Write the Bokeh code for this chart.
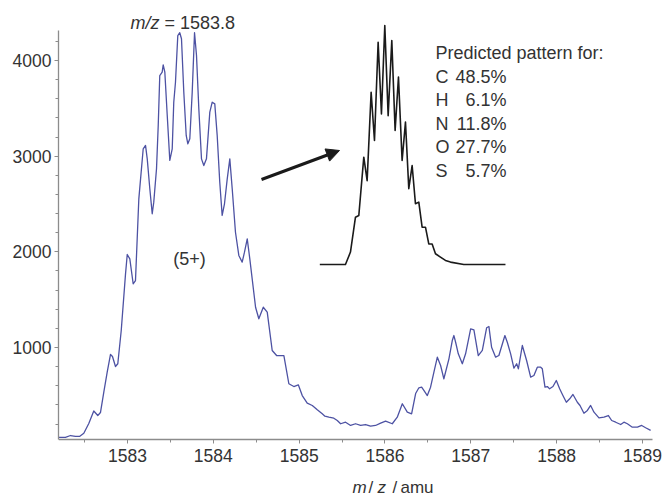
from bokeh.plotting import figure
from bokeh.models import Range1d, SingleIntervalTicker, Label, Arrow, NormalHead
from bokeh.embed import file_html
from bokeh.resources import INLINE

# ---------------- data ----------------
# observed spectrum (m/z, intensity)
mz_obs = [1582.199, 1582.277, 1582.336, 1582.394, 1582.441, 1582.491, 1582.549, 1582.607,
          1582.654, 1582.685, 1582.724, 1582.763, 1582.802, 1582.825, 1582.860, 1582.887,
          1582.927, 1582.977, 1582.997, 1583.027, 1583.066, 1583.093,
          1583.132, 1583.183, 1583.210, 1583.230, 1583.260, 1583.288, 1583.306, 1583.338,
          1583.358, 1583.376, 1583.404, 1583.416, 1583.435, 1583.463, 1583.493, 1583.521,
          1583.539, 1583.559, 1583.586, 1583.609, 1583.629, 1583.656, 1583.684, 1583.703,
          1583.726, 1583.754, 1583.781, 1583.804, 1583.831, 1583.862, 1583.889, 1583.920,
          1583.959, 1583.987, 1584.017, 1584.045, 1584.075, 1584.103, 1584.130, 1584.162,
          1584.192, 1584.220, 1584.258, 1584.297, 1584.336, 1584.363, 1584.395, 1584.425,
          1584.492, 1584.530, 1584.582, 1584.628, 1584.686,
          1584.737, 1584.822, 1584.880, 1584.938, 1584.990, 1585.036, 1585.094, 1585.153,
          1585.211, 1585.269, 1585.300, 1585.346, 1585.404, 1585.444, 1585.483, 1585.541,
          1585.599, 1585.657, 1585.716, 1585.774, 1585.832, 1585.890, 1585.949, 1586.007,
          1586.085, 1586.143, 1586.202, 1586.260, 1586.310, 1586.357, 1586.395, 1586.427,
          1586.453, 1586.493, 1586.531, 1586.570, 1586.610, 1586.648, 1586.686, 1586.745,
          1586.784, 1586.803, 1586.823, 1586.854, 1586.901, 1586.939, 1586.998, 1587.036,
          1587.087, 1587.134, 1587.184, 1587.211, 1587.242, 1587.289, 1587.327, 1587.397,
          1587.425, 1587.464, 1587.502, 1587.534, 1587.554, 1587.600, 1587.650, 1587.697,
          1587.735, 1587.775, 1587.814, 1587.833, 1587.864, 1587.892, 1587.918, 1587.957,
          1587.996, 1588.035, 1588.073, 1588.113, 1588.152, 1588.190, 1588.241, 1588.272,
          1588.318, 1588.358, 1588.396, 1588.435, 1588.493, 1588.551, 1588.603, 1588.641,
          1588.688, 1588.746, 1588.784, 1588.824, 1588.882, 1588.941, 1588.991, 1589.037,
          1589.095]
int_obs = [60, 60, 80, 70, 70, 104, 206, 336,
           289, 320, 533, 739, 927, 906, 801, 830,
           1178, 1770, 1972, 1927, 1666, 1700,
           2554, 3077, 3112, 2972, 2659, 2398, 2519, 2868,
           3321, 3843, 3878, 3955, 3878, 3425, 2955, 3077,
           3564, 3773, 4261, 4290, 4227, 3669, 3216, 3129,
           3182, 3669, 4290, 4052, 3495, 2972, 2902, 2972,
           3460, 3564, 3547, 3216, 2728, 2380, 2502, 2763,
           2972, 2659, 2205, 1962, 1892, 1996, 2136, 1927,
           1421, 1300, 1421, 1369, 969,
           916, 916, 621, 592, 610, 498, 418, 394,
           349, 307, 282, 272, 261, 237, 203, 219,
           185, 203, 185, 195, 178, 185, 209, 230,
           203, 272, 412, 324, 307, 519, 579, 585,
           551, 498, 585, 742, 899, 812, 673, 882,
           1073, 1125, 1055, 934, 830, 934, 1195, 1185,
           916, 969, 1206, 1219, 1003, 899, 916, 1125,
           1055, 934, 784, 830, 777, 1021, 864, 690,
           707, 794, 794, 777, 585, 592, 568, 592,
           655, 568, 498, 428, 464, 509, 428, 394,
           313, 342, 394, 324, 265, 272, 289, 237,
           219, 195, 219, 203, 167, 167, 185, 161,
           133]
assert len(mz_obs) == len(int_obs)

# predicted isotope pattern (m/z, relative intensity %)
mz_pred = [1581.879, 1582.637, 1582.785, 1582.933, 1583.032, 1583.179, 1583.278, 1583.396,
           1583.495, 1583.603, 1583.701, 1583.800, 1583.899, 1584.007, 1584.105, 1584.204,
           1584.312, 1584.411, 1584.509, 1584.608, 1584.706, 1584.805, 1584.903, 1585.002,
           1585.100, 1585.199, 1585.298, 1585.445, 1585.593, 1585.741, 1586.135, 1587.367]
int_pred = [0, 0, 5.2, 19.8, 20.5, 44.9, 35.1, 72.1,
            51.9, 93.0, 63.0, 100, 62.3, 93.7, 56.1, 78.4,
            43.5, 59.6, 31.7, 41.4, 25.4, 26.1, 15.6, 15.6,
            8.6, 8.6, 4.5, 3.1, 1.7, 1.0, 0, 0]

elements = ["C", "H", "N", "O", "S"]
percent = ["48.5%", "6.1%", "11.8%", "27.7%", "5.7%"]
peak_label = "1583.8"
charge_label = "(5+)"

# ---------------- layout ----------------
W, H = 663, 496
FL, FR, FT, FB = 58, 663, 0, 496      # frame edges, px
AXIS_X_PX = (58, 652)                 # visible extent of the x axis line
AXIS_Y_PX = (439, 30)                 # visible extent of the y axis line (bottom, top)
PX_PER_MZ = 85.83
PX_PER_INT = 0.09567

X0 = 1583 - (127 - FL) / PX_PER_MZ
X1 = X0 + (FR - FL) / PX_PER_MZ
Y0 = 1000 - (FB - 347) / PX_PER_INT
Y1 = Y0 + (FB - FT) / PX_PER_INT

def dx(px):
    return X0 + (px - FL) * (X1 - X0) / (FR - FL)

def dy(py):
    return Y0 + (FB - py) * (Y1 - Y0) / (FB - FT)

FONT = "Liberation Sans"
TXT = "#333333"
AX = "#8c8c8c"

p = figure(width=W, height=H, output_backend="svg", toolbar_location=None,
           x_range=Range1d(X0, X1), y_range=Range1d(Y0, Y1),
           min_border_left=FL, min_border_right=W - FR, min_border_top=FT,
           min_border_bottom=H - FB)
p.grid.visible = False
p.outline_line_color = None
p.background_fill_color = "white"

for ax in (p.xaxis[0], p.yaxis[0]):
    ax.axis_line_color = AX
    ax.axis_line_width = 1.3
    ax.major_tick_line_color = AX
    ax.minor_tick_line_color = AX
    ax.major_tick_in = 0
    ax.minor_tick_in = 0
    ax.major_tick_out = 4
    ax.minor_tick_out = 3
    ax.major_label_text_font = FONT
    ax.major_label_text_font_size = "17.5px"
    ax.major_label_text_color = TXT

p.xaxis.ticker = SingleIntervalTicker(interval=1, num_minor_ticks=2)
p.xaxis.major_label_standoff = 5
p.xaxis.fixed_location = dy(AXIS_Y_PX[0])
p.xaxis.bounds = (X0, dx(AXIS_X_PX[1]))
p.yaxis.ticker = SingleIntervalTicker(interval=1000, num_minor_ticks=5)
p.yaxis.major_label_standoff = 3
p.yaxis.bounds = (dy(AXIS_Y_PX[0]), dy(AXIS_Y_PX[1]))

# observed spectrum
p.line(mz_obs, int_obs, line_color="#4d52a3", line_width=1.3, line_join="round")

# inset: predicted pattern drawn on its own ranges
ipx_peak, ipy_peak, ipy_base, ipx_scale = 384.3, 25, 264, 33.83
ref_mz = 1583.8
ix0 = ref_mz + (FL - ipx_peak) / ipx_scale
ix1 = ref_mz + (FR - ipx_peak) / ipx_scale
ys = (ipy_base - ipy_peak) / 100.0
iy0 = 0 - (FB - ipy_base) / ys
iy1 = 100 + (ipy_peak - FT) / ys
p.extra_x_ranges = {"inset_x": Range1d(ix0, ix1)}
p.extra_y_ranges = {"inset_y": Range1d(iy0, iy1)}
p.line(mz_pred, int_pred, x_range_name="inset_x", y_range_name="inset_y",
       line_color="#1a1a1a", line_width=1.6, line_join="round")

# arrow
p.add_layout(Arrow(end=NormalHead(size=13, fill_color="#1a1a1a", line_color="#1a1a1a"),
                   x_start=dx(261), y_start=dy(179), x_end=dx(339), y_end=dy(150),
                   line_color="#1a1a1a", line_width=3))

def lab(px, py, text, italic=False, align="left", size="18px"):
    p.add_layout(Label(x=dx(px), y=dy(py), text=text, text_font=FONT,
                       text_font_size=size, text_color=TXT,
                       text_font_style="italic" if italic else "normal",
                       text_align=align, text_baseline="middle"))

# peak annotation
lab(130, 22, "m/z", italic=True)
lab(164, 22, "= " + peak_label)
lab(189, 258, charge_label, align="center")

# predicted composition text
lab(435, 52, "Predicted pattern for:")
for i, (el, pc) in enumerate(zip(elements, percent)):
    yy = 76 + i * 23.5
    lab(435, yy, el)
    lab(506, yy, pc, align="right")

# x axis title
lab(352, 487, "m", italic=True, size="17px")
lab(368, 487, "/", size="17px")
lab(377, 487, "z", italic=True, size="17px")
lab(392, 487, "/", size="17px")
lab(400, 487, "amu", size="17px")

html = file_html(p, INLINE)
open("out.html", "w").write(html)
